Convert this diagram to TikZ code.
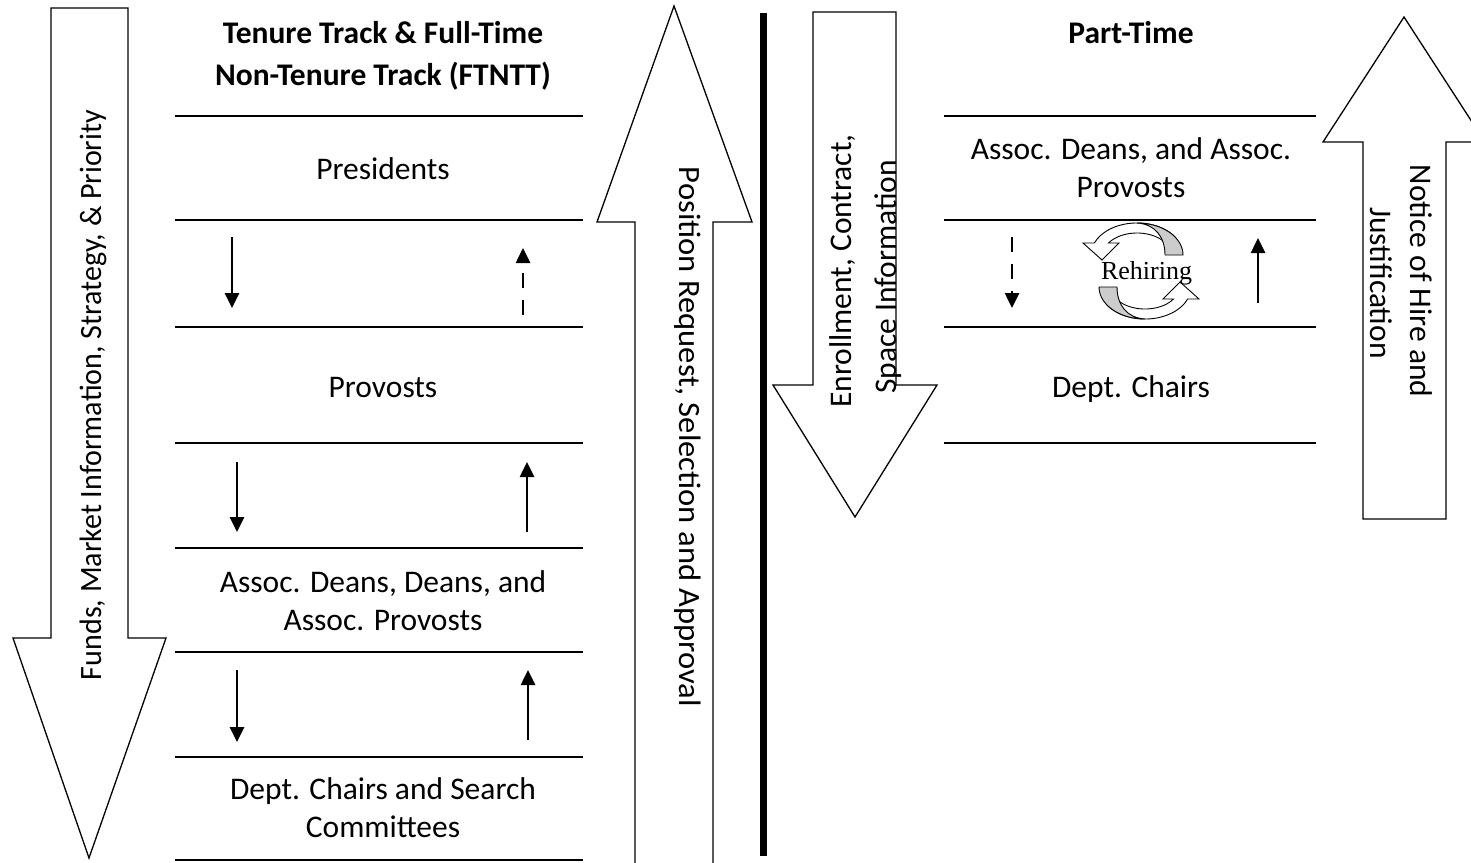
\documentclass[tikz,border=0pt]{standalone}
\usepackage{fontspec}
\setmainfont{Carlito}
\newfontfamily\serifrm{Liberation Serif}
\usetikzlibrary{arrows.meta}
\tikzset{
  bigarrow/.style={draw=black, line width=1.3pt, fill=white, line join=miter},
  tier/.style={line width=1.8pt},
  lbl/.style={font=\fontsize{31.5}{38}\selectfont, align=center, inner sep=0pt},
  ttl/.style={font=\fontsize{31.5}{38}\selectfont\bfseries, align=center, inner sep=0pt},
  flow/.style={line width=2.6pt, -{Triangle[length=15pt,width=14pt]}},
  flowdash/.style={flow, dash pattern=on 15pt off 12pt},
  sidelbl/.style={inner sep=0pt, font=\fontsize{31}{36}\selectfont},
  vlbl/.style={inner sep=0pt, font=\fontsize{31.5}{38}\selectfont},
  reharrow/.pic={
    \begin{scope}[yscale=-1, line width=0.9pt, line join=miter]
      \draw[fill=white] (33.7,34.4) arc[start angle=35,end angle=158,x radius=46,y radius=32]
        -- (-58,28) -- (-39,11) -- (-22,28) -- (-32.5,28)
        arc[start angle=147,end angle=35,x radius=34,y radius=22] -- cycle;
      \draw[fill=gray!40] (42,16) arc[start angle=0,end angle=90,x radius=46,y radius=32]
        .. controls (14,47) and (24,34) .. (24,16) -- cycle;
    \end{scope}
  }
}
\begin{document}
\begin{tikzpicture}[x=1pt,y=-1pt]
\clip (0,0) rectangle (1471,862);
\fill[white] (0,0) rectangle (1471,862);

% big block arrows
\draw[bigarrow] (51,8) -- (128,8) -- (128,638) -- (166,638) -- (89,858) -- (13,638) -- (51,638) -- cycle;
\draw[bigarrow] (635,875) -- (635,222) -- (597,222) -- (674,6) -- (752,222) -- (713,222) -- (713,875);
\draw[bigarrow] (813,12) -- (896,12) -- (896,385) -- (937,385) -- (855,517) -- (773,385) -- (813,385) -- cycle;
\draw[bigarrow] (1363,519) -- (1363,142) -- (1323,142) -- (1404,17) -- (1485,142) -- (1446,142) -- (1446,519) -- cycle;

% separator
\draw[line width=7pt] (763,13) -- (763,856);

% tier lines
\foreach \yy in {116,220,327,443,548,652,757,860} \draw[tier] (175,\yy) -- (583,\yy);
\foreach \yy in {116,220,327,443} \draw[tier] (944,\yy) -- (1316,\yy);

% labels, left (base anchor = baseline of last line)
\node[ttl, anchor=base] (ttlL) at (383,85) {Tenure Track \& Full-Time\\[4pt]Non-Tenure Track (FTNTT)};
\node[lbl, anchor=base] (pres) at (383,179) {Presidents};
\node[lbl, anchor=base] (prov) at (383,397) {Provosts};
\node[lbl, anchor=base] (adean) at (383,630) {Assoc. Deans, Deans, and\\Assoc. Provosts};
\node[lbl, anchor=base] (chairs) at (383,837) {Dept. Chairs and Search\\Committees};

% labels, right
\node[ttl, anchor=base] (ttlR) at (1131,43) {Part-Time};
\node[lbl, anchor=base] (adeanR) at (1131,197) {Assoc. Deans, and Assoc.\\Provosts};
\node[lbl, anchor=base] (chairsR) at (1131,397) {Dept. Chairs};

% side labels
\node[sidelbl, rotate=90, anchor=base] (funds) at (101,395) {\resizebox{570pt}{\height}{Funds, Market Information, Strategy, \& Priority}};
\node[sidelbl, rotate=-90, anchor=base] (posn) at (679,437) {\resizebox{540pt}{\height}{Position Request, Selection and Approval}};
\node[vlbl, rotate=90, anchor=base west] (enr1) at (851,408) {Enrollment, Contract,};
\node[vlbl, rotate=90, anchor=base west] (enr2) at (896,394) {Space Information};
\node[vlbl, rotate=-90, anchor=base] (note1) at (1410,281) {Notice of Hire and};
\node[vlbl, rotate=-90, anchor=base] (note2) at (1370,283) {Justification};

% small flow arrows
\coordinate (a1s) at (232,237); \coordinate (a1e) at (232,308);
\coordinate (b1s) at (523,315); \coordinate (b1e) at (523,248);
\coordinate (a2s) at (237,462); \coordinate (a2e) at (237,532);
\coordinate (b2s) at (527,532); \coordinate (b2e) at (527,462);
\coordinate (a3s) at (237,670); \coordinate (a3e) at (237,742);
\coordinate (b3s) at (528,740); \coordinate (b3e) at (528,670);
\coordinate (c1s) at (1012,237); \coordinate (c1e) at (1012,308);
\coordinate (d1s) at (1258,303); \coordinate (d1e) at (1258,238);
\draw[flow] (a1s) -- (a1e);
\draw[flowdash] (b1s) -- (b1e);
\draw[flow] (a2s) -- (a2e);
\draw[flow] (b2s) -- (b2e);
\draw[flow] (a3s) -- (a3e);
\draw[flow] (b3s) -- (b3e);
\draw[flowdash] (c1s) -- (c1e);
\draw[flow] (d1s) -- (d1e);

% rehiring cycle
\pic (rehup) at (1141,271) {reharrow};
\pic[rotate=180] (rehdn) at (1141,271) {reharrow};
\node[font=\serifrm\fontsize{26}{30}\selectfont, anchor=base, inner sep=0pt] (rehire) at (1146.5,279) {Rehiring};
\end{tikzpicture}
\end{document}
